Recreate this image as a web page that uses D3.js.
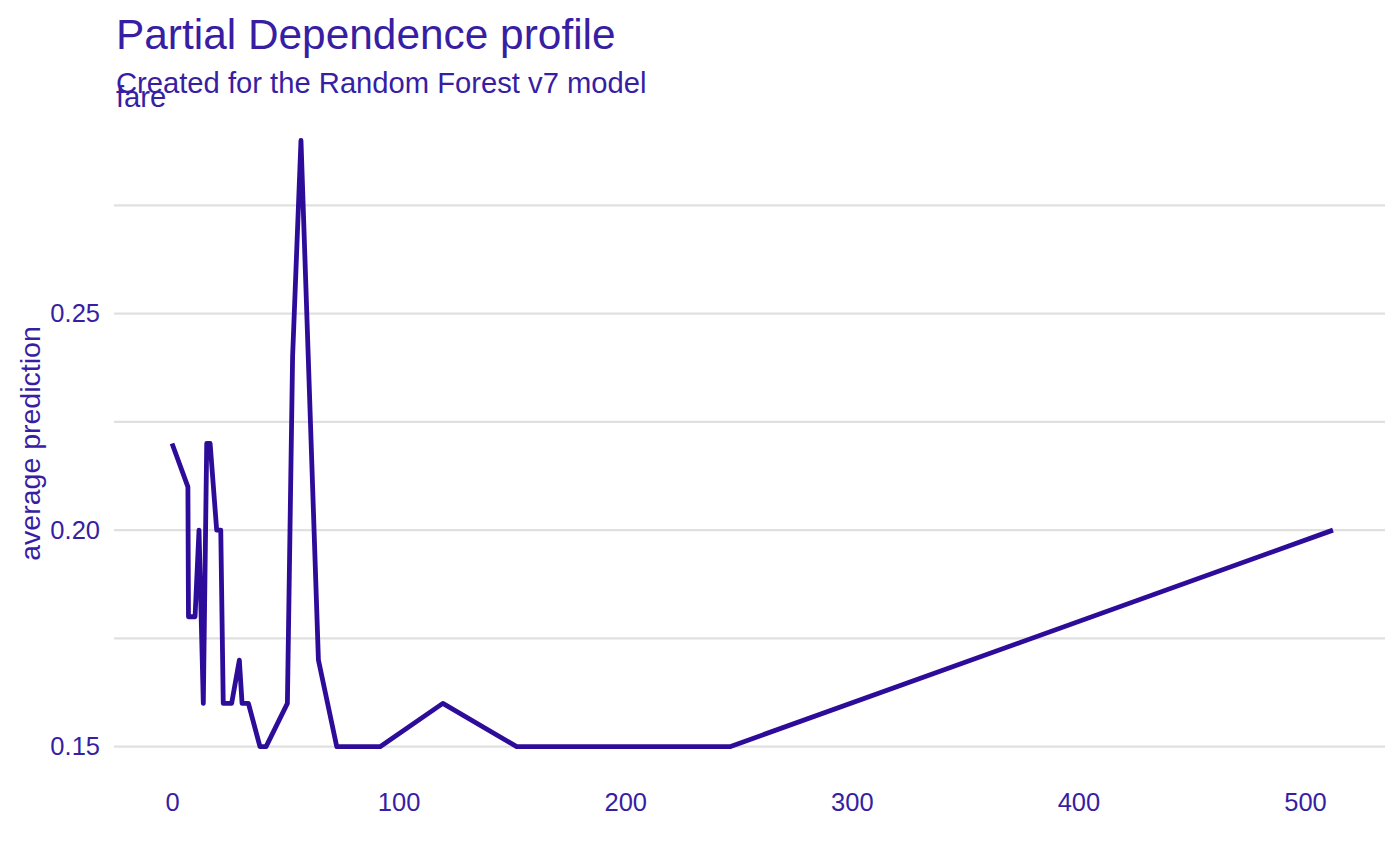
<!DOCTYPE html>
<html>
<head>
<meta charset="utf-8">
<script src="https://cdn.jsdelivr.net/npm/d3@7"></script>
<style>
  html, body { margin: 0; padding: 0; background: #ffffff; }
  svg { display: block; font-family: "Liberation Sans", Arial, Helvetica, sans-serif; }
</style>
</head>
<body>
<svg id="chart" width="1400" height="865"></svg>
<script>
// ---- data ----
const fare = [0, 7.0, 7.25, 10.15, 11.9, 13.8, 15.3, 16.8, 19.7, 21.5, 22.6, 26.3, 29.7, 30.9, 33.7, 38.8, 41.5, 50.9, 53.2, 56.9, 64.6, 72.7, 91.8, 119.5, 152.1, 246.2, 512.33];
const avgPrediction = [0.22, 0.21, 0.18, 0.18, 0.20, 0.16, 0.22, 0.22, 0.20, 0.20, 0.16, 0.16, 0.17, 0.16, 0.16, 0.15, 0.15, 0.16, 0.24, 0.29, 0.17, 0.15, 0.15, 0.16, 0.15, 0.15, 0.20];
const xTicks = [0, 100, 200, 300, 400, 500];
const yMajorTicks = [0.15, 0.20, 0.25];
const yMinorTicks = [0.175, 0.225, 0.275];
const titleText = "Partial Dependence profile";
const subtitleText = "Created for the Random Forest v7 model";
const stripText = "fare";
const yTitleText = "average prediction";

const color = "#371ea3";
const lineColor = "#2e0c9a";
const gridColor = "#e0e0e0";

const svg = d3.select("#chart");
const panel = { left: 114, right: 1391, top: 110, bottom: 777 };

const xExt = d3.extent(fare);
const xPad = (xExt[1] - xExt[0]) * 0.05;
const yExt = d3.extent(avgPrediction);
const yPad = (yExt[1] - yExt[0]) * 0.05;

const x = d3.scaleLinear().domain([xExt[0] - xPad, xExt[1] + xPad]).range([panel.left, panel.right]);
const y = d3.scaleLinear().domain([yExt[0] - yPad, yExt[1] + yPad]).range([panel.bottom, panel.top]);

// gridlines
svg.append("g").selectAll("line")
  .data(yMinorTicks.concat(yMajorTicks))
  .join("line")
  .attr("x1", panel.left).attr("x2", 1385)
  .attr("y1", d => y(d)).attr("y2", d => y(d))
  .attr("stroke", gridColor).attr("stroke-width", 2.2);

// y axis labels
const yAxis = d3.axisLeft(y).tickValues(yMajorTicks).tickFormat(d3.format(".2f")).tickSize(0).tickPadding(14);
const gy = svg.append("g").attr("transform", `translate(${panel.left},0)`).call(yAxis);
gy.select(".domain").remove();
gy.selectAll("text").attr("fill", color).style("font-size", "25.5px").style("font-family", "Liberation Sans, Arial, sans-serif");

// x axis labels
const xAxis = d3.axisBottom(x).tickValues(xTicks).tickFormat(d3.format("d")).tickSize(0).tickPadding(16);
const gx = svg.append("g").attr("transform", `translate(0,${panel.bottom})`).call(xAxis);
gx.select(".domain").remove();
gx.selectAll("text").attr("fill", color).style("font-size", "25.5px").style("font-family", "Liberation Sans, Arial, sans-serif");

// line
const pts = fare.map((f, i) => [f, avgPrediction[i]]);
svg.append("path")
  .datum(pts)
  .attr("fill", "none")
  .attr("stroke", lineColor)
  .attr("stroke-width", 4.8)
  .attr("stroke-linejoin", "round")
  .attr("d", d3.line().x(d => x(d[0])).y(d => y(d[1])));

// titles
svg.append("text").attr("x", 116).attr("y", 49).text(titleText)
  .attr("fill", color).style("font-size", "42.4px");
svg.append("text").attr("x", 116).attr("y", 93).text(subtitleText)
  .attr("fill", color).style("font-size", "29.2px");
svg.append("text").attr("x", 116).attr("y", 107).text(stripText)
  .attr("fill", color).style("font-size", "29.2px");

// y title
svg.append("text")
  .attr("transform", `translate(40,${(panel.top + panel.bottom) / 2}) rotate(-90)`)
  .attr("text-anchor", "middle")
  .text(yTitleText)
  .attr("fill", color).style("font-size", "28.5px");
</script>
</body>
</html>
